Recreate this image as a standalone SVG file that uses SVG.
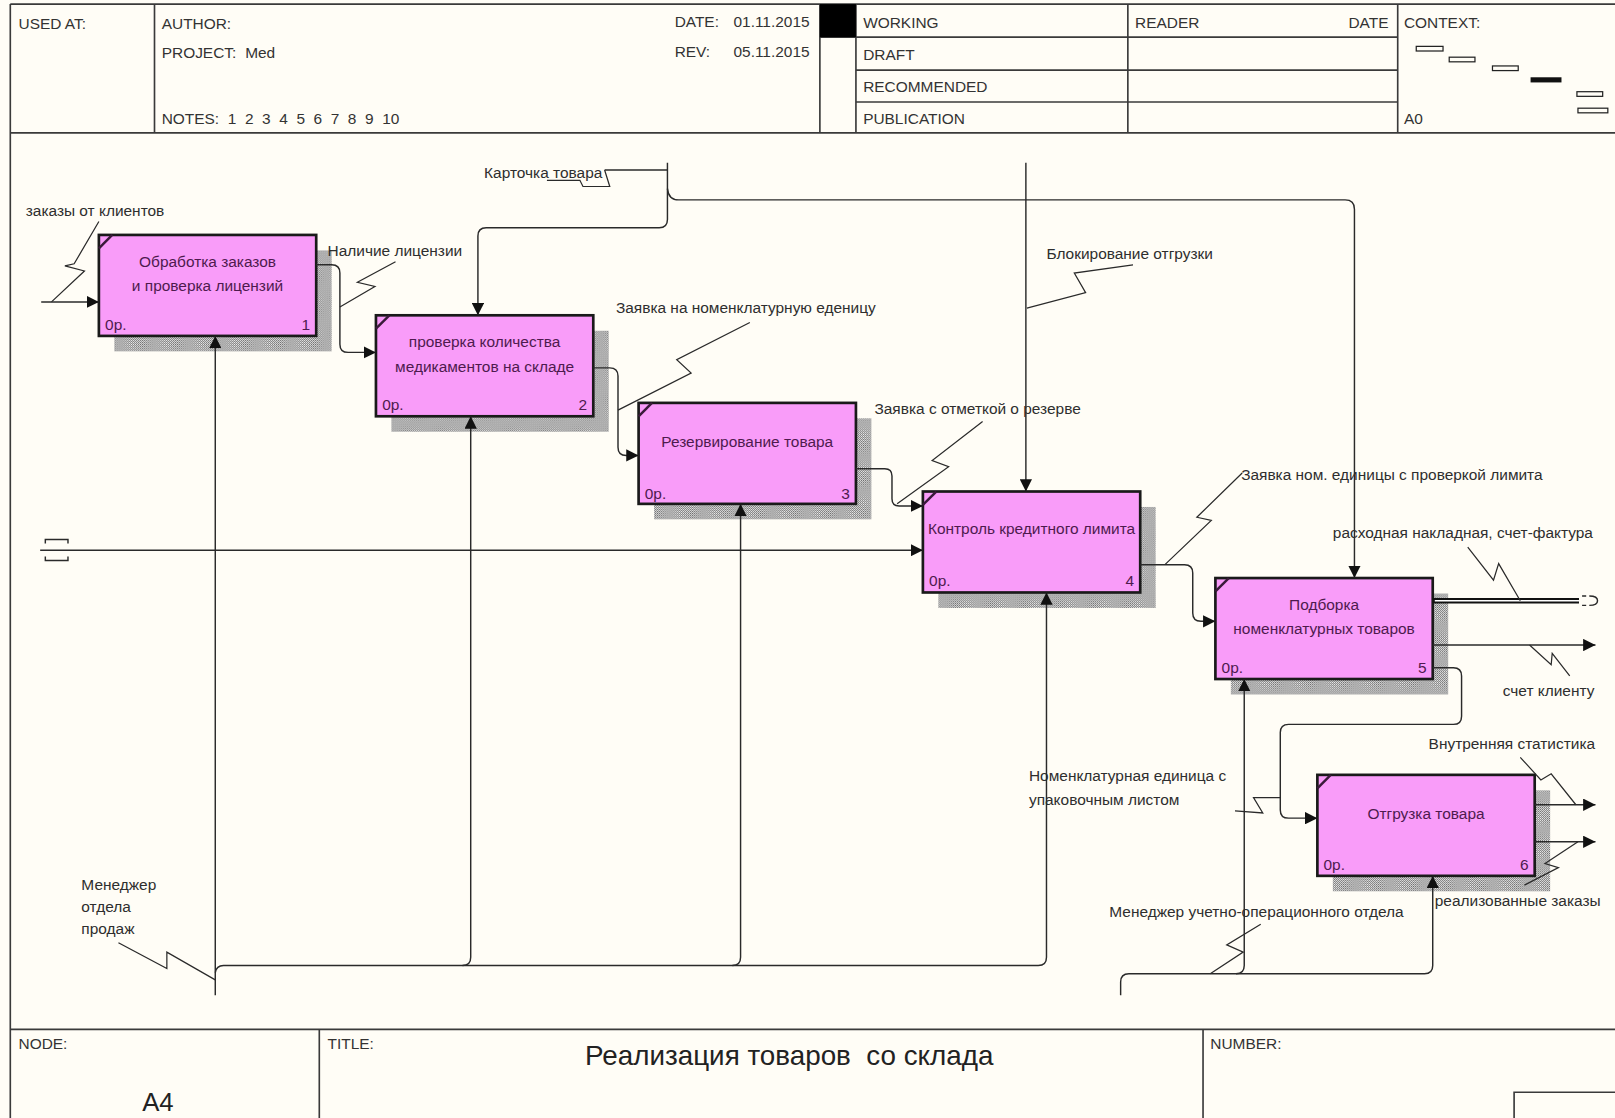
<svg xmlns="http://www.w3.org/2000/svg" width="1615" height="1118" viewBox="0 0 1615 1118">
<defs>
<style>
text{font-family:"Liberation Sans",Arial,sans-serif;font-size:15px;fill:#2e2e2e}
.hd{font-size:15px;fill:#333}
.bt{fill:#4e1a4e;font-size:15px}
.big{font-size:25px;fill:#222}
.ttl{font-size:27px;fill:#222}
.box{fill:#F99CF9;stroke:#1a1a1a;stroke-width:2.6}
.crn{stroke:#3a1a3a;stroke-width:2.4}
.sh{fill:url(#hatch)}
.ln{fill:none;stroke:#2a2a2a;stroke-width:1.4}
.ar{fill:none;stroke:#2a2a2a;stroke-width:1.4;marker-end:url(#ah)}
.sq{fill:none;stroke:#2a2a2a;stroke-width:1.2}
.fr{fill:none;stroke:#3a3a3a;stroke-width:1.6}
.ctx{fill:none;stroke:#222;stroke-width:1.2}
</style>
<pattern id="hatch" width="2" height="2" patternUnits="userSpaceOnUse">
<rect width="2" height="2" fill="#f0f0f0"/>
<rect width="1" height="1" fill="#6a6a6a"/>
<rect x="1" y="1" width="1" height="1" fill="#6a6a6a"/>
</pattern>
<marker id="ah" markerUnits="userSpaceOnUse" markerWidth="13" markerHeight="12" refX="12" refY="6" orient="auto">
<path d="M0,0 L12,6 L0,12 z" fill="#111"/>
</marker>
</defs>
<rect x="0" y="0" width="1615" height="1118" fill="#FFFDF6"/>
<g transform="scale(1.03 1.0304)">
<g id="frame">
<line class="fr" x1="10" y1="4" x2="1570" y2="4"/>
<line class="fr" x1="10" y1="4" x2="10" y2="1090"/>
<line class="fr" x1="10" y1="129" x2="1570" y2="129" stroke-width="2"/>
<line class="fr" x1="150" y1="4" x2="150" y2="129"/>
<line class="fr" x1="796" y1="4" x2="796" y2="129"/>
<line class="fr" x1="831" y1="4" x2="831" y2="129"/>
<line class="fr" x1="1095" y1="4" x2="1095" y2="129"/>
<line class="fr" x1="1357" y1="4" x2="1357" y2="129"/>
<line class="fr" x1="796" y1="36" x2="1357" y2="36"/>
<line class="fr" x1="831" y1="68" x2="1357" y2="68"/>
<line class="fr" x1="831" y1="99" x2="1357" y2="99"/>
<rect x="796" y="4" width="35" height="32" fill="#000"/>
<text class="hd" x="18" y="28">USED AT:</text>
<text class="hd" x="157" y="28">AUTHOR:</text>
<text class="hd" x="157" y="56">PROJECT:</text>
<text class="hd" x="238" y="56">Med</text>
<text class="hd" x="157" y="120" xml:space="preserve">NOTES:  1  2  3  4  5  6  7  8  9  10</text>
<text class="hd" x="655" y="26">DATE:</text>
<text class="hd" x="786" y="26" text-anchor="end">01.11.2015</text>
<text class="hd" x="655" y="55">REV:</text>
<text class="hd" x="786" y="55" text-anchor="end">05.11.2015</text>
<text class="hd" x="838" y="27">WORKING</text>
<text class="hd" x="838" y="58">DRAFT</text>
<text class="hd" x="838" y="89">RECOMMENDED</text>
<text class="hd" x="838" y="120">PUBLICATION</text>
<text class="hd" x="1102" y="27">READER</text>
<text class="hd" x="1348" y="27" text-anchor="end">DATE</text>
<text class="hd" x="1363" y="27">CONTEXT:</text>
<text class="hd" x="1363" y="120">A0</text>
<rect class="ctx" x="1375" y="45" width="26" height="4.5"/>
<rect class="ctx" x="1407" y="55.5" width="25" height="4.5"/>
<rect class="ctx" x="1449" y="64" width="25" height="4.5"/>
<rect x="1486" y="75" width="30" height="5" fill="#111"/>
<rect class="ctx" x="1531" y="89" width="25" height="4.5"/>
<rect class="ctx" x="1532" y="105" width="29" height="4.5"/>
<line class="fr" x1="10" y1="999" x2="1570" y2="999" stroke-width="2"/>
<line class="fr" x1="310" y1="999" x2="310" y2="1090"/>
<line class="fr" x1="1168" y1="999" x2="1168" y2="1090"/>
<path class="fr" d="M1470,1090 V1060 H1570"/>
<text class="hd" x="18" y="1018">NODE:</text>
<text class="hd" x="318" y="1018">TITLE:</text>
<text class="hd" x="1175" y="1018">NUMBER:</text>
<text class="big" x="138" y="1078">A4</text>
<text class="ttl" x="568" y="1034" xml:space="preserve">Реализация товаров  со склада</text>
</g>
<g id="node1">
<rect class="sh" x="111" y="243" width="211" height="98"/>
<rect class="box" x="96" y="228" width="211" height="98"/>
<line class="crn" x1="96" y1="241" x2="109" y2="228"/>
<text class="bt" x="201.5" y="259" text-anchor="middle">Обработка заказов</text>
<text class="bt" x="201.5" y="282" text-anchor="middle">и проверка лицензий</text>
<text class="bt" x="102" y="320">0р.</text>
<text class="bt" x="301" y="320" text-anchor="end">1</text>
</g>
<g id="node2">
<rect class="sh" x="380" y="321" width="211" height="98"/>
<rect class="box" x="365" y="306" width="211" height="98"/>
<line class="crn" x1="365" y1="319" x2="378" y2="306"/>
<text class="bt" x="470.5" y="337" text-anchor="middle">проверка количества</text>
<text class="bt" x="470.5" y="361" text-anchor="middle">медикаментов на складе</text>
<text class="bt" x="371" y="398">0р.</text>
<text class="bt" x="570" y="398" text-anchor="end">2</text>
</g>
<g id="node3">
<rect class="sh" x="635" y="406" width="211" height="98"/>
<rect class="box" x="620" y="391" width="211" height="98"/>
<line class="crn" x1="620" y1="404" x2="633" y2="391"/>
<text class="bt" x="725.5" y="434" text-anchor="middle">Резервирование товара</text>
<text class="bt" x="626" y="484">0р.</text>
<text class="bt" x="825" y="484" text-anchor="end">3</text>
</g>
<g id="node4">
<rect class="sh" x="911" y="492" width="211" height="98"/>
<rect class="box" x="896" y="477" width="211" height="98"/>
<line class="crn" x1="896" y1="490" x2="909" y2="477"/>
<text class="bt" x="1001.5" y="518" text-anchor="middle">Контроль кредитного лимита</text>
<text class="bt" x="902" y="569">0р.</text>
<text class="bt" x="1101" y="569" text-anchor="end">4</text>
</g>
<g id="node5">
<rect class="sh" x="1195" y="576" width="211" height="98"/>
<rect class="box" x="1180" y="561" width="211" height="98"/>
<line class="crn" x1="1180" y1="574" x2="1193" y2="561"/>
<text class="bt" x="1285.5" y="592" text-anchor="middle">Подборка</text>
<text class="bt" x="1285.5" y="615" text-anchor="middle">номенклатурных товаров</text>
<text class="bt" x="1186" y="653">0р.</text>
<text class="bt" x="1385" y="653" text-anchor="end">5</text>
</g>
<g id="node6">
<rect class="sh" x="1294" y="767" width="211" height="98"/>
<rect class="box" x="1279" y="752" width="211" height="98"/>
<line class="crn" x1="1279" y1="765" x2="1292" y2="752"/>
<text class="bt" x="1384.5" y="795" text-anchor="middle">Отгрузка товара</text>
<text class="bt" x="1285" y="844">0р.</text>
<text class="bt" x="1484" y="844" text-anchor="end">6</text>
</g>
<g id="connectors">
<path class="ar" d="M40,293 H96"/>
<path class="sq" d="M96,215 L72,256 L63,258 L82,263 L50,293"/>
<text x="25" y="210">заказы от клиентов</text>
<path class="ar" d="M307,257 H322 Q330,257 330,265 V334 Q330,342 338,342 H365"/>
<path class="sq" d="M384,254 L347,274 L364,278 L330,298"/>
<text x="318" y="248">Наличие лицензии</text>
<path class="ar" d="M648,158 V213 Q648,221 640,221 H472 Q464,221 464,229 V306"/>
<path class="ln" d="M587,165 H648"/>
<path class="sq" d="M531,175 H563 L566,181 H592 L587,165"/>
<text x="470" y="173">Карточка товара</text>
<path class="ar" d="M648,183 Q649,194 659,194 H1306 Q1315,194 1315,203 V561"/>
<path class="ar" d="M996,158 V477"/>
<path class="sq" d="M1100,257 L1043,265 L1054,284 L997,299"/>
<text x="1016" y="251">Блокирование отгрузки</text>
<path class="ar" d="M576,357 H592 Q600,357 600,365 V434 Q600,442 608,442 H620"/>
<path class="sq" d="M728,313 L657,349 L671,362 L600,398"/>
<text x="598" y="304">Заявка на номенклатурную еденицу</text>
<path class="ar" d="M831,455 H859 Q866,455 866,462 V484 Q866,491 873,491 H896"/>
<path class="sq" d="M954,409 L905,447 L921,453 L871,489"/>
<text x="849" y="402">Заявка с отметкой о резерве</text>
<path class="ar" d="M1107,548 H1150 Q1158,548 1158,556 V595 Q1158,603 1166,603 H1180"/>
<path class="sq" d="M1206,459 L1162,502 L1176,505 L1131,548"/>
<text x="1205" y="466">Заявка ном. единицы с проверкой лимита</text>
<path class="ar" d="M39,534 H896"/>
<path class="ln" d="M44,527.5 V523.5 H66 V527.5 M44,540 V544 H66 V540"/>
<path d="M1391,583 H1533" fill="none" stroke="#111" stroke-width="5.5"/>
<path d="M1393,583 H1533" fill="none" stroke="#fff" stroke-width="1.5"/>
<path class="ln" d="M1536,578.5 H1540 M1536,587.5 H1540 M1543,578.5 Q1551,578.5 1551,583 Q1551,587.5 1543,587.5"/>
<path class="sq" d="M1425,531 L1450,563 L1455,547 L1476,583"/>
<text x="1294" y="522">расходная накладная, счет-фактура</text>
<path class="ar" d="M1391,626 H1549"/>
<path class="sq" d="M1485,626 L1506,645 L1507,634 L1524,656"/>
<text x="1459" y="675">счет клиенту</text>
<path class="ar" d="M1391,648 H1411 Q1419,648 1419,656 V695 Q1419,703 1411,703 H1251 Q1243,703 1243,711 V786 Q1243,794 1251,794 H1279"/>
<path class="sq" d="M1243,774 L1217,774 L1226,789 L1199,787"/>
<text x="999" y="758">Номенклатурная единица с</text>
<text x="999" y="781">упаковочным листом</text>
<path class="ar" d="M1490,781 H1549"/>
<path class="sq" d="M1476,735 L1496,757 L1506,751 L1530,781"/>
<text x="1387" y="727">Внутренняя статистика</text>
<path class="ar" d="M1490,817 H1549"/>
<path class="sq" d="M1480,859 L1513,842 L1500,838 L1532,817"/>
<text x="1393" y="879">реализованные заказы</text>
<path class="ar" d="M1088,966 V953 Q1088,945 1096,945 H1383 Q1391,945 1391,937 V850"/>
<path class="ar" d="M1200,945 Q1208,945 1208,937 V659"/>
<path class="sq" d="M1224,897 L1191,917 L1207,924 L1175,945"/>
<text x="1077" y="890">Менеджер учетно-операционного отдела</text>
<path class="ar" d="M209,966 V326"/>
<path class="ar" d="M209,944 Q210,937 217,937 H1008 Q1016,937 1016,929 V575"/>
<path class="ar" d="M449,937 Q457,937 457,929 V404"/>
<path class="ar" d="M711,937 Q719,937 719,929 V489"/>
<path class="sq" d="M115,915 L162,940 L162,924 L209,951"/>
<text x="79" y="864">Менеджер</text>
<text x="79" y="885">отдела</text>
<text x="79" y="906">продаж</text>
</g>
</g>
</svg>
